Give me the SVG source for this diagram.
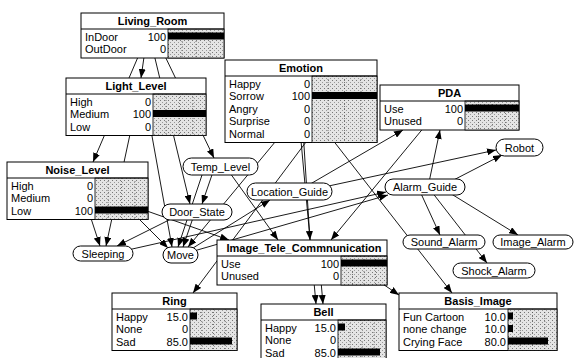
<svg xmlns="http://www.w3.org/2000/svg" width="575" height="358" viewBox="0 0 575 358">
<style>
text{font-family:"Liberation Sans",Arial,sans-serif;font-size:11px;fill:#000}
.title{font-weight:bold;text-anchor:middle}
.num{text-anchor:end}
.mid{text-anchor:middle}
.box{fill:#fff;stroke:#000;stroke-width:1}
.sep{stroke:#000;stroke-width:1}
.bars{fill:url(#stip);stroke:#000;stroke-width:0.8}
.grid{stroke:#555;stroke-width:0.8;stroke-dasharray:1 2}
.bar{fill:#000}
.node{fill:#fff;stroke:#000;stroke-width:1}
.link{stroke:#000;stroke-width:0.9;fill:none;marker-end:url(#arr)}
</style>
<defs>
<pattern id="stip" width="4" height="4" patternUnits="userSpaceOnUse">
<rect width="4" height="4" fill="#e4e4e4"/>
<rect x="0" y="0" width="1" height="1" fill="#777"/>
<rect x="2" y="2" width="1" height="1" fill="#999"/>
</pattern>
<marker id="arr" markerWidth="9" markerHeight="7" refX="9" refY="3.5" orient="auto" markerUnits="userSpaceOnUse">
<path d="M0,0 L9,3.5 L0,7 z" fill="#000"/>
</marker>
</defs>
<rect width="575" height="358" fill="#fff"/>

<g id="connectors">
<line class="link" x1="145" y1="50" x2="141" y2="78"/>
<line class="link" x1="141" y1="50" x2="93" y2="162"/>
<line class="link" x1="153" y1="50" x2="190" y2="204"/>
<line class="link" x1="162" y1="50" x2="214" y2="158"/>
<line class="link" x1="132" y1="125" x2="106" y2="246"/>
<line class="link" x1="150" y1="125" x2="172" y2="247"/>
<line class="link" x1="85" y1="200" x2="100" y2="246"/>
<line class="link" x1="120" y1="200" x2="168" y2="248"/>
<line class="link" x1="130" y1="205" x2="229" y2="240"/>
<line class="link" x1="185" y1="212" x2="117" y2="246"/>
<line class="link" x1="195" y1="212" x2="183" y2="247"/>
<line class="link" x1="215" y1="166" x2="202" y2="204"/>
<line class="link" x1="205" y1="166" x2="178" y2="247"/>
<line class="link" x1="225" y1="166" x2="278" y2="240"/>
<line class="link" x1="285" y1="130" x2="188" y2="247"/>
<line class="link" x1="303" y1="130" x2="310" y2="240"/>
<line class="link" x1="315" y1="130" x2="193" y2="293"/>
<line class="link" x1="300" y1="130" x2="316" y2="304"/>
<line class="link" x1="320" y1="270" x2="323" y2="304"/>
<line class="link" x1="325" y1="130" x2="452" y2="293"/>
<line class="link" x1="365" y1="272" x2="399" y2="295"/>
<line class="link" x1="430" y1="120" x2="331" y2="240"/>
<line class="link" x1="300" y1="190" x2="403" y2="130"/>
<line class="link" x1="428" y1="187" x2="440" y2="130"/>
<line class="link" x1="440" y1="187" x2="502" y2="155"/>
<line class="link" x1="310" y1="190" x2="496" y2="150"/>
<line class="link" x1="110" y1="254" x2="386" y2="192"/>
<line class="link" x1="180" y1="255" x2="388" y2="195"/>
<line class="link" x1="185" y1="253" x2="270" y2="200"/>
<line class="link" x1="418" y1="187" x2="440" y2="235"/>
<line class="link" x1="428" y1="187" x2="487" y2="263"/>
<line class="link" x1="440" y1="187" x2="518" y2="235"/>
</g>

<g id="living_room">
<rect class="box" x="81" y="13" width="143" height="45"/>
<rect class="bars" x="168" y="29" width="56" height="29"/>
<line class="grid" x1="182" y1="29" x2="182" y2="58"/><line class="grid" x1="196" y1="29" x2="196" y2="58"/><line class="grid" x1="210" y1="29" x2="210" y2="58"/>
<line class="sep" x1="81" y1="29" x2="224" y2="29"/>
<text class="title" x="152.5" y="25">Living_Room</text>
<text x="85" y="40.5">InDoor</text><text class="num" x="166" y="40.5">100</text><rect class="bar" x="168" y="32.5" width="56" height="7"/>
<text x="85" y="53">OutDoor</text><text class="num" x="166" y="53">0</text>
</g>

<g id="light_level">
<rect class="box" x="66" y="78" width="140" height="57.5"/>
<rect class="bars" x="153" y="94" width="53" height="41.5"/>
<line class="grid" x1="166" y1="94" x2="166" y2="135.5"/><line class="grid" x1="179.5" y1="94" x2="179.5" y2="135.5"/><line class="grid" x1="193" y1="94" x2="193" y2="135.5"/>
<line class="sep" x1="66" y1="94" x2="206" y2="94"/>
<text class="title" x="136" y="90">Light_Level</text>
<text x="70" y="105.5">High</text><text class="num" x="151" y="105.5">0</text>
<text x="70" y="118">Medium</text><text class="num" x="151" y="118">100</text><rect class="bar" x="153" y="110" width="53" height="7"/>
<text x="70" y="130.5">Low</text><text class="num" x="151" y="130.5">0</text>
</g>

<g id="noise_level">
<rect class="box" x="7" y="162" width="141" height="57.5"/>
<rect class="bars" x="95" y="178" width="53" height="41.5"/>
<line class="grid" x1="108" y1="178" x2="108" y2="219.5"/><line class="grid" x1="121.5" y1="178" x2="121.5" y2="219.5"/><line class="grid" x1="135" y1="178" x2="135" y2="219.5"/>
<line class="sep" x1="7" y1="178" x2="148" y2="178"/>
<text class="title" x="77.5" y="174">Noise_Level</text>
<text x="11" y="189.5">High</text><text class="num" x="93" y="189.5">0</text>
<text x="11" y="202">Medium</text><text class="num" x="93" y="202">0</text>
<text x="11" y="214.5">Low</text><text class="num" x="93" y="214.5">100</text><rect class="bar" x="95" y="206.5" width="53" height="7"/>
</g>

<g id="emotion">
<rect class="box" x="225" y="60" width="152" height="82.5"/>
<rect class="bars" x="312" y="76" width="65" height="66.5"/>
<line class="grid" x1="328" y1="76" x2="328" y2="142.5"/><line class="grid" x1="344.5" y1="76" x2="344.5" y2="142.5"/><line class="grid" x1="361" y1="76" x2="361" y2="142.5"/>
<line class="sep" x1="225" y1="76" x2="377" y2="76"/>
<text class="title" x="301" y="72">Emotion</text>
<text x="229" y="87.5">Happy</text><text class="num" x="310" y="87.5">0</text>
<text x="229" y="100">Sorrow</text><text class="num" x="310" y="100">100</text><rect class="bar" x="312" y="92" width="65" height="7"/>
<text x="229" y="112.5">Angry</text><text class="num" x="310" y="112.5">0</text>
<text x="229" y="125">Surprise</text><text class="num" x="310" y="125">0</text>
<text x="229" y="137.5">Normal</text><text class="num" x="310" y="137.5">0</text>
</g>

<g id="pda">
<rect class="box" x="380" y="85" width="139" height="45"/>
<rect class="bars" x="465" y="101" width="54" height="29"/>
<line class="grid" x1="478.5" y1="101" x2="478.5" y2="130"/><line class="grid" x1="492" y1="101" x2="492" y2="130"/><line class="grid" x1="505.5" y1="101" x2="505.5" y2="130"/>
<line class="sep" x1="380" y1="101" x2="519" y2="101"/>
<text class="title" x="449.5" y="97">PDA</text>
<text x="384" y="112.5">Use</text><text class="num" x="463" y="112.5">100</text><rect class="bar" x="465" y="104.5" width="54" height="7"/>
<text x="384" y="125">Unused</text><text class="num" x="463" y="125">0</text>
</g>

<g id="image_tele_communication">
<rect class="box" x="217" y="240" width="170" height="45"/>
<rect class="bars" x="341" y="256" width="46" height="29"/>
<line class="grid" x1="352.5" y1="256" x2="352.5" y2="285"/><line class="grid" x1="364" y1="256" x2="364" y2="285"/><line class="grid" x1="375.5" y1="256" x2="375.5" y2="285"/>
<line class="sep" x1="217" y1="256" x2="387" y2="256"/>
<text class="title" x="304" y="252">Image_Tele_Commnunication</text>
<text x="221" y="267.5">Use</text><text class="num" x="339" y="267.5">100</text><rect class="bar" x="341" y="259.5" width="46" height="7"/>
<text x="221" y="280">Unused</text><text class="num" x="339" y="280">0</text>
</g>

<g id="ring">
<rect class="box" x="112" y="293" width="125" height="57.5"/>
<rect class="bars" x="190" y="309" width="47" height="41.5"/>
<line class="grid" x1="201.75" y1="309" x2="201.75" y2="350.5"/><line class="grid" x1="213.5" y1="309" x2="213.5" y2="350.5"/><line class="grid" x1="225.25" y1="309" x2="225.25" y2="350.5"/>
<line class="sep" x1="112" y1="309" x2="237" y2="309"/>
<text class="title" x="174.5" y="305">Ring</text>
<text x="116" y="320.5">Happy</text><text class="num" x="188" y="320.5">15.0</text><rect class="bar" x="190" y="312.5" width="7" height="7"/>
<text x="116" y="333">None</text><text class="num" x="188" y="333">0</text>
<text x="116" y="345.5">Sad</text><text class="num" x="188" y="345.5">85.0</text><rect class="bar" x="190" y="337.5" width="42" height="7"/>
</g>

<g id="bell">
<rect class="box" x="261" y="304" width="125" height="57.5"/>
<rect class="bars" x="338" y="320" width="48" height="41.5"/>
<line class="grid" x1="350" y1="320" x2="350" y2="361.5"/><line class="grid" x1="362" y1="320" x2="362" y2="361.5"/><line class="grid" x1="374" y1="320" x2="374" y2="361.5"/>
<line class="sep" x1="261" y1="320" x2="386" y2="320"/>
<text class="title" x="323.5" y="316">Bell</text>
<text x="265" y="331.5">Happy</text><text class="num" x="336" y="331.5">15.0</text><rect class="bar" x="338" y="323.5" width="7" height="7"/>
<text x="265" y="344">None</text><text class="num" x="336" y="344">0</text>
<text x="265" y="356.5">Sad</text><text class="num" x="336" y="356.5">85.0</text><rect class="bar" x="338" y="348.5" width="42" height="7"/>
</g>

<g id="basis_image">
<rect class="box" x="399" y="293" width="158" height="57.5"/>
<rect class="bars" x="508" y="309" width="49" height="41.5"/>
<line class="grid" x1="520.25" y1="309" x2="520.25" y2="350.5"/><line class="grid" x1="532.5" y1="309" x2="532.5" y2="350.5"/><line class="grid" x1="544.75" y1="309" x2="544.75" y2="350.5"/>
<line class="sep" x1="399" y1="309" x2="557" y2="309"/>
<text class="title" x="478" y="305">Basis_Image</text>
<text x="403" y="320.5">Fun Cartoon</text><text class="num" x="506" y="320.5">10.0</text><rect class="bar" x="508" y="312.5" width="5" height="7"/>
<text x="403" y="333">none change</text><text class="num" x="506" y="333">10.0</text><rect class="bar" x="508" y="325" width="5" height="7"/>
<text x="403" y="345.5">Crying Face</text><text class="num" x="506" y="345.5">80.0</text><rect class="bar" x="508" y="337.5" width="40" height="7"/>
</g>

<g id="temp_level"><rect class="node" x="183" y="158" width="75" height="17" rx="8.5"/><text class="mid" x="220.5" y="170.5">Temp_Level</text></g>
<g id="location_guide"><rect class="node" x="247" y="183" width="85" height="17" rx="8.5"/><text class="mid" x="289.5" y="195.5">Location_Guide</text></g>
<g id="door_state"><rect class="node" x="162" y="204" width="70" height="16" rx="8"/><text class="mid" x="197" y="216">Door_State</text></g>
<g id="sleeping"><rect class="node" x="73" y="246" width="60" height="15" rx="7.5"/><text class="mid" x="103" y="257.5">Sleeping</text></g>
<g id="move"><rect class="node" x="163" y="247" width="35" height="16" rx="8"/><text class="mid" x="180.5" y="259">Move</text></g>
<g id="robot"><rect class="node" x="496" y="139" width="47" height="17" rx="8.5"/><text class="mid" x="519.5" y="151.5">Robot</text></g>
<g id="alarm_guide"><rect class="node" x="385" y="179" width="80" height="16" rx="8"/><text class="mid" x="425" y="191">Alarm_Guide</text></g>
<g id="sound_alarm"><rect class="node" x="403" y="235" width="82" height="14" rx="7"/><text class="mid" x="444" y="246">Sound_Alarm</text></g>
<g id="image_alarm"><rect class="node" x="493" y="235" width="80" height="14" rx="7"/><text class="mid" x="533" y="246">Image_Alarm</text></g>
<g id="shock_alarm"><rect class="node" x="453" y="263" width="82" height="15" rx="7.5"/><text class="mid" x="494" y="274.5">Shock_Alarm</text></g>
</svg>
